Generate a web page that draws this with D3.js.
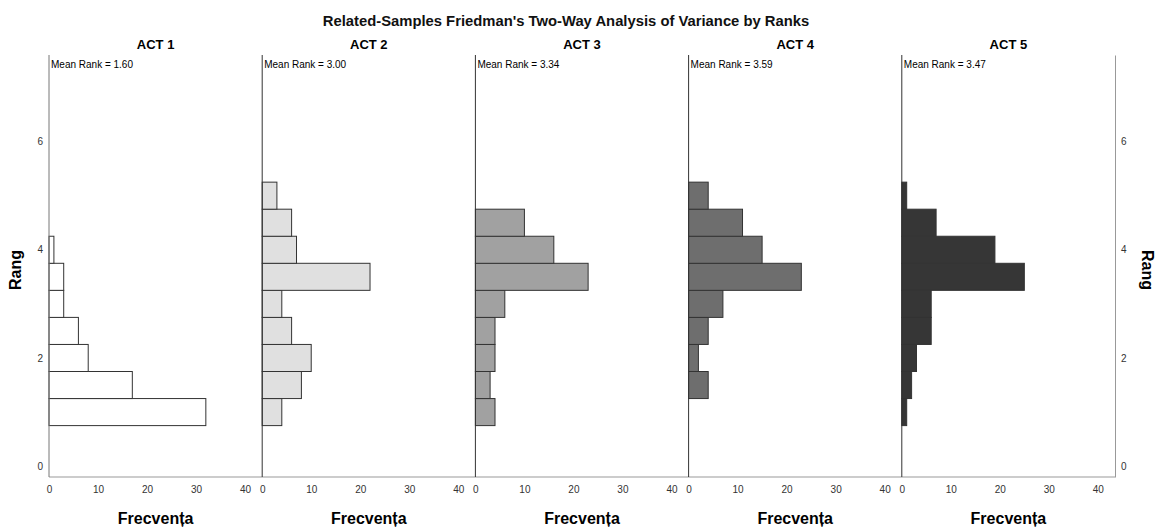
<!DOCTYPE html>
<html lang="ro">
<head>
<meta charset="UTF-8">
<title>Friedman ranks</title>
<style>
  body { margin: 0; background: #fff; }
  svg { display: block; font-family: "Liberation Sans", Arial, sans-serif; }
</style>
</head>
<body>
<svg width="1156" height="527"></svg>
<script src="https://d3js.org/d3.v7.min.js"></script>
<script>
// bins of rank (width 0.5), bottom to top
const rankBins = [1, 1.5, 2, 2.5, 3, 3.5, 4, 4.5, 5];
const panels = ["ACT 1", "ACT 2", "ACT 3", "ACT 4", "ACT 5"];
const meanRanks = ["1.60", "3.00", "3.34", "3.59", "3.47"];
const act1 = [32, 17, 8, 6, 3, 3, 1, 0, 0];
const act2 = [4, 8, 10, 6, 4, 22, 7, 6, 3];
const act3 = [4, 3, 4, 4, 6, 23, 16, 10, 0];
const act4 = [0, 4, 2, 4, 7, 23, 15, 11, 4];
const act5 = [1, 2, 3, 6, 6, 25, 19, 7, 1];
const counts = [act1, act2, act3, act4, act5];
const fills = ["#ffffff", "#e0e0e0", "#a1a1a1", "#6e6e6e", "#363636"];
const rankTicks = [0, 2, 4, 6];
const freqTicks = [0, 10, 20, 30, 40];

let svg = d3.select("svg");
let plotLeft = 49, plotRight = 1115, plotTop = 55, plotBottom = 477;
let panelW = (plotRight - plotLeft) / panels.length;

let y = d3.scaleLinear().domain([-0.2, 7.6]).range([plotBottom, plotTop]);

// title
svg.append("text")
  .attr("x", 566).attr("y", 26)
  .attr("text-anchor", "middle")
  .style("font-size", "14.8px").style("font-weight", "bold")
  .attr("fill", "#111")
  .text("Related-Samples Friedman's Two-Way Analysis of Variance by Ranks");

// left rank axis
let yl = svg.append("g").attr("transform", "translate(" + plotLeft + ",0)")
  .call(d3.axisLeft(y).tickValues(rankTicks).tickSize(0).tickPadding(6));
yl.select(".domain").remove();
yl.selectAll("text").style("font-size", "10px").attr("fill", "#333")
  .style("font-family", "Liberation Sans, Arial, sans-serif");

// right rank axis
let yr = svg.append("g").attr("transform", "translate(" + plotRight + ",0)")
  .call(d3.axisRight(y).tickValues(rankTicks).tickSize(0).tickPadding(6));
yr.select(".domain").attr("stroke", "#999");
yr.selectAll("text").style("font-size", "10px").attr("fill", "#333")
  .style("font-family", "Liberation Sans, Arial, sans-serif");

svg.append("text")
  .attr("transform", "translate(21,270) rotate(-90)")
  .attr("text-anchor", "middle")
  .style("font-size", "16px").style("font-weight", "bold")
  .text("Rang");
svg.append("text")
  .attr("transform", "translate(1142,270) rotate(90)")
  .attr("text-anchor", "middle")
  .style("font-size", "16px").style("font-weight", "bold")
  .text("Rang");

// bottom axis line
svg.append("line")
  .attr("x1", plotLeft).attr("x2", plotRight).attr("y1", plotBottom).attr("y2", plotBottom)
  .attr("stroke", "#999");

for (let p = 0; p < panels.length; p++) {
  let x0 = plotLeft + p * panelW;
  let x = d3.scaleLinear().domain([0, 43.5]).range([x0, x0 + panelW]);
  let g = svg.append("g");

  let data = rankBins.map(function(r, i) { return {rank: r, n: counts[p][i]}; })
    .filter(function(d) { return d.n > 0; });

  g.selectAll("rect").data(data).enter().append("rect")
    .attr("x", x(0))
    .attr("y", function(d) { return y(d.rank + 0.25); })
    .attr("width", function(d) { return x(d.n) - x(0); })
    .attr("height", function(d) { return y(d.rank - 0.25) - y(d.rank + 0.25); })
    .attr("fill", fills[p])
    .attr("stroke", "#333")
    .attr("stroke-width", 1);

  // panel axis line
  g.append("line")
    .attr("x1", x(0)).attr("x2", x(0)).attr("y1", plotTop).attr("y2", plotBottom)
    .attr("stroke", p === 0 ? "#777" : "#333");

  let xa = svg.append("g").attr("transform", "translate(0," + plotBottom + ")")
    .call(d3.axisBottom(x).tickValues(freqTicks).tickSize(0).tickPadding(9));
  xa.select(".domain").remove();
  xa.selectAll("text").style("font-size", "10px").attr("fill", "#333")
    .style("font-family", "Liberation Sans, Arial, sans-serif");

  svg.append("text")
    .attr("x", x0 + panelW / 2).attr("y", 49)
    .attr("text-anchor", "middle")
    .style("font-size", "13px").style("font-weight", "bold")
    .text(panels[p]);

  svg.append("text")
    .attr("x", x0 + 2).attr("y", 68)
    .style("font-size", "10px")
    .text("Mean Rank = " + meanRanks[p]);

  svg.append("text")
    .attr("x", x0 + panelW / 2).attr("y", 524)
    .attr("text-anchor", "middle")
    .style("font-size", "16px").style("font-weight", "bold")
    .text("Frecvența");
}
</script>
</body>
</html>
